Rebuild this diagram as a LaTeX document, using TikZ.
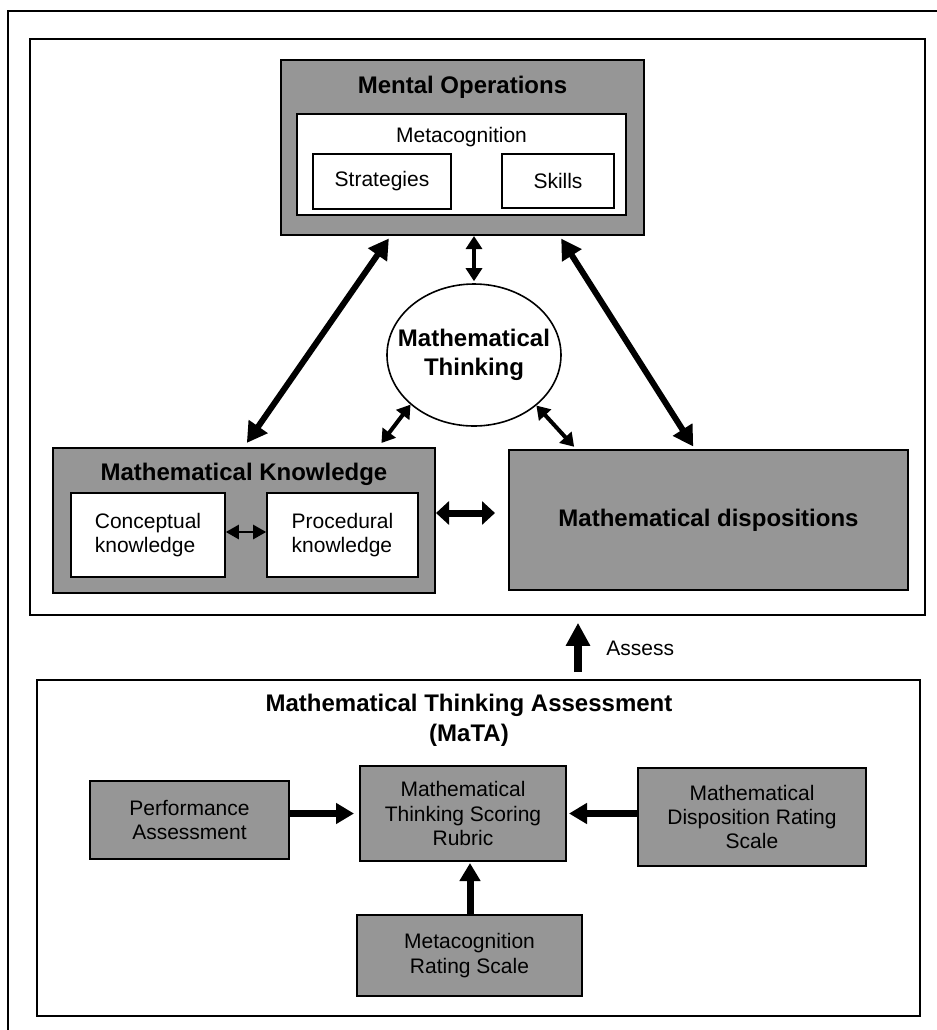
\documentclass[tikz,border=0pt]{standalone}
\usepackage{fontspec}
\setmainfont{Liberation Sans}
\usetikzlibrary{arrows.meta,calc,positioning,shapes.geometric}
\definecolor{boxgray}{RGB}{150,150,150}
\tikzset{
	frame/.style={draw,line width=0.8pt,inner sep=0pt},
	greybox/.style={draw,line width=1pt,fill=boxgray,inner sep=0pt,align=center,font=\fontsize{10.5}{12.2}\selectfont},
	whitebox/.style={draw,line width=0.8pt,fill=white,inner sep=0pt,align=center,font=\fontsize{10.5}{12.2}\selectfont},
	heading/.style={inner sep=0pt,align=center,font=\bfseries\fontsize{12}{14.5}\selectfont},
	txt/.style={inner sep=0pt,font=\fontsize{10.5}{12.2}\selectfont},
	bigarrow/.style={line width=3pt,{Triangle[width=11pt,length=10pt]}-{Triangle[width=11pt,length=10pt]}},
	smallarrow/.style={line width=2pt,{Triangle[width=8pt,length=6.5pt]}-{Triangle[width=8pt,length=6.5pt]}},
	tinyarrow/.style={line width=1.2pt,{Triangle[width=7pt,length=6.5pt]}-{Triangle[width=7pt,length=6.5pt]}},
	wide arrow/.style={line width=3.5pt,{Triangle[width=11.5pt,length=6.5pt]}-{Triangle[width=11.5pt,length=6.5pt]}},
	feedarrow/.style={line width=3.5pt,-{Triangle[width=10pt,length=9pt]}},
	assessarrow/.style={line width=4pt,-{Triangle[width=11.5pt,length=11.5pt]}}
}
\begin{document}
\begin{tikzpicture}[x=0.5pt,y=-0.5pt]
	\useasboundingbox (0,0) rectangle (937,1030);
	\draw[line width=0.8pt] (8,1030) -- (8,11) -- (937,11);
	\node[frame,minimum width=447.5pt,minimum height=288pt] (upper) at (477.5,327) {};
	\node[frame,minimum width=441.5pt,minimum height=168pt] (lower) at (478.5,848) {};

	\node[greybox,minimum width=181.5pt,minimum height=87.5pt] (mo) at (462.5,147.5) {};
	\node[heading] (mohead) at (462.5,87) {Mental Operations};
	\node[whitebox,minimum width=164.5pt,minimum height=50.5pt] (meta) at (461.5,164.5) {};
	\node[txt] (metahead) at (461.5,137) {Metacognition};
	\node[whitebox,minimum width=69pt,minimum height=27.5pt] (strat) at (382,181.5) {Strategies};
	\node[whitebox,minimum width=56pt,minimum height=27pt] (skills) at (558,181) {Skills};

	\node[draw,line width=0.8pt,fill=white,ellipse,inner xsep=-10pt,inner ysep=0pt,minimum width=87pt,minimum height=71pt] (mt) at (474,355) {};
	\node[heading] (mthead) at (mt) {Mathematical\\Thinking};

	\node[greybox,minimum width=191pt,minimum height=72.5pt] (mk) at (244,520.5) {};
	\node[heading] (mkhead) at (244,474) {Mathematical Knowledge};
	\node[whitebox,align=left,minimum width=77pt,minimum height=42pt] (con) at (148,535) {Conceptual\\knowledge};
	\node[whitebox,align=left,minimum width=75.5pt,minimum height=42pt] (pro) at (342.5,535) {Procedural\\knowledge};
	\node[greybox,minimum width=199.5pt,minimum height=70pt,font=\bfseries\fontsize{12}{14.5}\selectfont] (md) at (708.5,520) {Mathematical dispositions};

	\draw[bigarrow,shorten <=1.5pt,shorten >=2.5pt] ($(mo.south west)!0.303!(mo.south east)$) -- (mk.north);
	\draw[bigarrow,shorten <=1.5pt,shorten >=1.5pt] ($(mo.south west)!0.766!(mo.south east)$) -- ($(md.north west)!0.466!(md.north east)$);
	\draw[smallarrow,shorten <=1pt] (mt.north) -- (mt.north |- mo.south);
	\draw[smallarrow,shorten >=2.5pt] (mt.218) -- ($(mk.north west)!0.85!(mk.north east)$);
	\draw[smallarrow,shorten >=1.5pt] (mt.321) -- ($(md.north west)!0.17!(md.north east)$);
	\draw[tinyarrow] ([yshift=1.5pt]con.east) -- ([yshift=1.5pt]pro.west);
	\draw[wide arrow,shorten >=6.5pt] ([yshift=3.75pt]mk.east) -- ([yshift=3.5pt]md.west);

	\coordinate (assess) at (578,648);
	\draw[assessarrow,shorten <=3.5pt,shorten >=3.5pt] (lower.north -| assess) -- (upper.south -| assess);
	\node[txt,right=14pt of assess] (assesslbl) {Assess};

	\node[heading,font=\bfseries\fontsize{12}{15}\selectfont] (matahead) at (469,720) {Mathematical Thinking Assessment\\(MaTA)};
	\node[greybox,minimum width=99.5pt,minimum height=39pt] (pa) at (189.5,820) {Performance\\Assessment};
	\node[greybox,minimum width=103pt,minimum height=47.5pt] (mtsr) at (463,813.5) {Mathematical\\Thinking Scoring\\Rubric};
	\node[greybox,minimum width=114pt,minimum height=49pt] (mdrs) at (752,817) {Mathematical\\Disposition Rating\\Scale};
	\node[greybox,minimum width=112.5pt,minimum height=40.5pt] (mrs) at (469.5,955.5) {Metacognition\\Rating Scale};

	\draw[feedarrow,shorten >=2.5pt] (pa.east |- mtsr.west) -- (mtsr.west);
	\draw[feedarrow,shorten >=1pt] (mdrs.west |- mtsr.east) -- (mtsr.east);
	\draw[feedarrow,shorten >=0.5pt] (mrs.north -| 470,0) -- (mtsr.south -| 470,0);
\end{tikzpicture}
\end{document}
